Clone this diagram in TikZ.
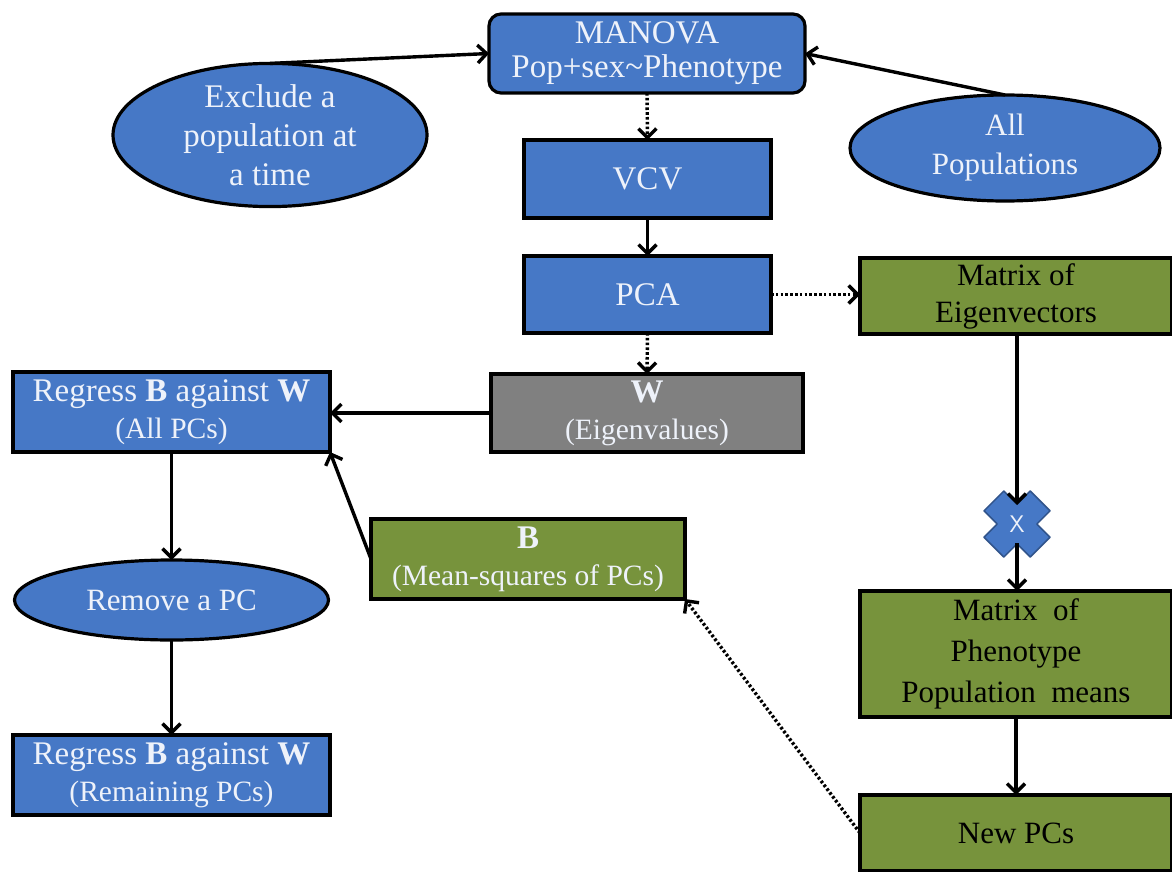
\documentclass[tikz,border=0pt]{standalone}
\usepackage{fontspec}
\setmainfont{Liberation Serif}
\usetikzlibrary{arrows.meta,shapes.geometric}
\definecolor{boxblue}{RGB}{70,120,198}
\definecolor{boxgreen}{RGB}{119,147,60}
\definecolor{boxgray}{RGB}{128,128,128}
\definecolor{lighttext}{RGB}{238,242,250}
\newcommand{\mainsz}{\fontsize{33}{37}\selectfont}
\newcommand{\subsz}{\fontsize{29.5}{33}\selectfont}
\begin{document}
\begin{tikzpicture}[x=1pt,y=-1pt,
  every node/.style={inner sep=0pt,outer sep=0pt},
  base/.style={draw=black,line width=3.2pt,align=center,font=\mainsz},
  bluebox/.style={base,fill=boxblue,text=lighttext},
  greenbox/.style={base,fill=boxgreen,text=black},
  greenboxw/.style={base,fill=boxgreen,text=lighttext},
  graybox/.style={base,fill=boxgray,text=lighttext},
  blueell/.style={base,ellipse,fill=boxblue,text=lighttext},
  conn/.style={line width=3.4pt,-{Straight Barb[length=9pt,width=18pt]}},
  dotconn/.style={conn,dash pattern=on 2.6pt off 2.2pt}
]
\useasboundingbox (0,0) rectangle (1172,872);
\fill[white] (0,0) rectangle (1172,872);

\node[bluebox,rounded corners=12pt,minimum width=316pt,minimum height=79pt] (manova) at (647,53.5)
  {MANOVA\\[-3pt]Pop+sex\textasciitilde Phenotype};
\node[blueell,minimum width=314pt,minimum height=120pt,font=\fontsize{33}{39}\selectfont] (excl) at (270,135)
  {Exclude a\\population at\\a time};
\node[blueell,minimum width=310pt,minimum height=106pt,font=\fontsize{31}{39}\selectfont] (allpop) at (1005,148)
  {All\\Populations};
\node[bluebox,minimum width=247pt,minimum height=78pt] (vcv) at (647.5,179) {VCV};
\node[bluebox,minimum width=247pt,minimum height=77pt] (pca) at (647.5,294.5) {PCA};
\node[greenbox,minimum width=312pt,minimum height=76pt,font=\fontsize{31}{37}\selectfont] (eig) at (1016,296)
  {Matrix of\\Eigenvectors};
\node[graybox,minimum width=312pt,minimum height=78pt] (w) at (647,413)
  {\textbf{W}\\{\subsz(Eigenvalues)}};
\node[bluebox,minimum width=317pt,minimum height=80pt] (reg1) at (171.5,412)
  {Regress \textbf{B} against \textbf{W}\\{\subsz(All PCs)}};
\node[greenboxw,minimum width=314pt,minimum height=80pt] (b) at (528,559)
  {\textbf{B}\\{\subsz(Mean-squares of PCs)}};
\node[blueell,minimum width=314pt,minimum height=80pt,font=\fontsize{31}{37}\selectfont] (remove) at (171.5,600)
  {Remove a PC};
\node[bluebox,minimum width=317pt,minimum height=80pt] (reg2) at (171.5,775)
  {Regress \textbf{B} against \textbf{W}\\{\subsz(Remaining PCs)}};
\node[greenbox,minimum width=312pt,minimum height=126pt,font=\fontsize{31}{41}\selectfont] (mpm) at (1016,654)
  {Matrix\ \ of\\Phenotype\\Population\ \ means};
\node[greenbox,minimum width=312pt,minimum height=76pt,font=\fontsize{31}{37}\selectfont] (newpc) at (1016,833)
  {New PCs};

% cross "X"
\begin{scope}[shift={(1017,524)}]
  \draw[fill=boxblue,draw=boxblue!70!black,line width=1.5pt,line join=round]
    (0,-19.8) -- (13.2,-33) -- (33,-13.2) -- (19.8,0) -- (33,13.2) -- (13.2,33)
    -- (0,19.8) -- (-13.2,33) -- (-33,13.2) -- (-19.8,0) -- (-33,-13.2) -- (-13.2,-33) -- cycle;
\end{scope}
\node[text=lighttext,font=\fontsize{24}{24}\selectfont\sffamily] (cross) at (1017,524) {X};
\coordinate (xtop) at (1017,505);
\coordinate (xbot) at (1017,543);

% connectors
\draw[conn] (excl.north) -- (manova.west);
\draw[conn] (allpop.north) -- (manova.east);
\draw[dotconn] (manova.south) -- (vcv.north);
\draw[conn] (vcv.south) -- (pca.north);
\draw[dotconn] (pca.east) -- (pca.east -| eig.west);
\draw[dotconn] (pca.south) -- (w.north);
\draw[conn] (w.west) -- (w.west -| reg1.east);
\draw[conn] (b.west) -- (reg1.south east);
\draw[conn] (eig.south -| xtop) -- (xtop);
\draw[conn] (xbot) -- (xbot |- mpm.north);
\draw[conn] (mpm.south) -- (newpc.north);
\draw[dotconn] (newpc.west) -- (b.south east);
\draw[conn] (reg1.south) -- (remove.north);
\draw[conn] (remove.south) -- (reg2.north);
\end{tikzpicture}
\end{document}
